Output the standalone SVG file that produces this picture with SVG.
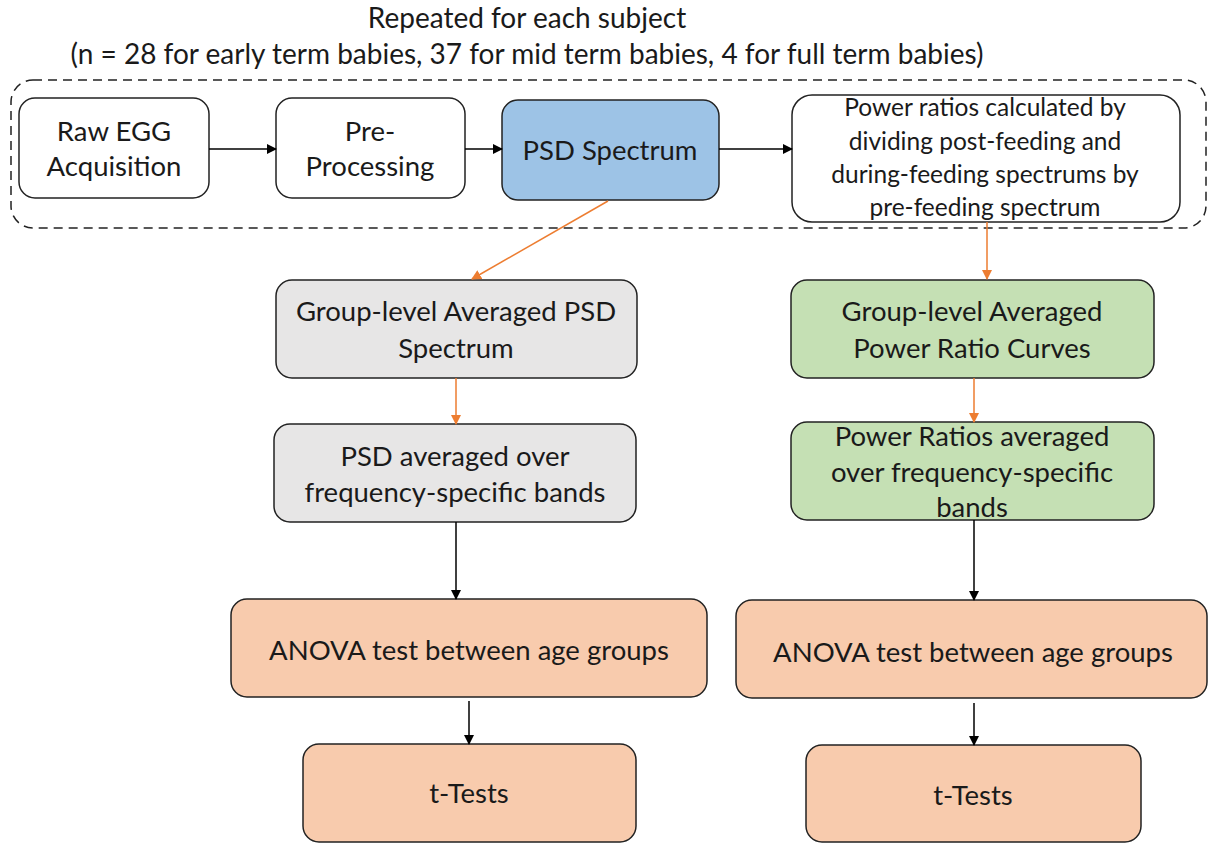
<svg xmlns="http://www.w3.org/2000/svg" width="1208" height="843" viewBox="0 0 1208 843">
<defs>
<marker id="ao" viewBox="0 0 10 10" refX="9" refY="5" markerWidth="10" markerHeight="10" orient="auto" markerUnits="userSpaceOnUse"><path d="M0,0 L10,5 L0,10 z" fill="#ED7D31"/></marker>
<marker id="ak" viewBox="0 0 10 10" refX="9" refY="5" markerWidth="10" markerHeight="10" orient="auto" markerUnits="userSpaceOnUse"><path d="M0,0 L10,5 L0,10 z" fill="#000"/></marker>
</defs>
<style>
text{font-family:Lato,"Open Sans","Liberation Sans",sans-serif;fill:#1a1a1a;text-anchor:middle}
.t{font-size:27.5px}
.h{font-size:28px}
.s{font-size:24.5px}
.n rect{stroke:#222;stroke-width:1.5}
.w{fill:#fff}
.b{fill:#9DC3E6}
.g{fill:#E7E6E6}
.gr{fill:#C5E0B4}
.o{fill:#F8CBAD}
.k{stroke:#000;stroke-width:1.5;fill:none}
.or{stroke:#ED7D31;stroke-width:1.5;fill:none}
</style>
<g id="title">
<text class="h" x="527" y="28">Repeated for each subject</text>
<text class="h" x="527" y="64">(n = 28 for early term babies, 37 for mid term babies, 4 for full term babies)</text>
</g>
<g id="container"><rect x="11" y="80" width="1195" height="148" rx="22" fill="none" stroke="#222" stroke-width="1.5" stroke-dasharray="9,6"/></g>
<g id="raw" class="n"><rect class="w" x="19" y="98" width="190" height="100" rx="16"/><text class="t" x="114" y="141">Raw EGG</text><text class="t" x="114" y="176">Acquisition</text></g>
<g id="pre" class="n"><rect class="w" x="276" y="98" width="189" height="100" rx="16"/><text class="t" x="370" y="141">Pre-</text><text class="t" x="370" y="176">Processing</text></g>
<g id="psd" class="n"><rect class="b" x="502" y="100" width="217" height="100" rx="16"/><text class="t" x="610" y="160">PSD Spectrum</text></g>
<g id="ratios" class="n"><rect class="w" x="792" y="95" width="388" height="127" rx="20"/><text class="s" x="985" y="116">Power ratios calculated by</text><text class="s" x="985" y="150">dividing post-feeding and</text><text class="s" x="985" y="183">during-feeding spectrums by</text><text class="s" x="985" y="216">pre-feeding spectrum</text></g>
<g id="grp_psd" class="n"><rect class="g" x="276" y="280" width="361" height="98" rx="16"/><text class="t" x="456" y="321">Group-level Averaged PSD</text><text class="t" x="456" y="358">Spectrum</text></g>
<g id="grp_ratio" class="n"><rect class="gr" x="791" y="280" width="363" height="98" rx="16"/><text class="t" x="972" y="321">Group-level Averaged</text><text class="t" x="972" y="358">Power Ratio Curves</text></g>
<g id="psd_bands" class="n"><rect class="g" x="274" y="424" width="362" height="98" rx="16"/><text class="t" x="455" y="466">PSD averaged over</text><text class="t" x="455" y="502">frequency-specific bands</text></g>
<g id="ratio_bands" class="n"><rect class="gr" x="791" y="422" width="363" height="98" rx="16"/><text class="t" x="972" y="446">Power Ratios averaged</text><text class="t" x="972" y="482">over frequency-specific</text><text class="t" x="972" y="517">bands</text></g>
<g id="anova_l" class="n"><rect class="o" x="231" y="599" width="476" height="98" rx="16"/><text class="t" x="469" y="660">ANOVA test between age groups</text></g>
<g id="anova_r" class="n"><rect class="o" x="736" y="600" width="471" height="98" rx="16"/><text class="t" x="973" y="662">ANOVA test between age groups</text></g>
<g id="t_l" class="n"><rect class="o" x="303" y="744" width="333" height="98" rx="16"/><text class="t" x="469" y="803">t-Tests</text></g>
<g id="t_r" class="n"><rect class="o" x="806" y="745" width="335" height="97" rx="16"/><text class="t" x="973" y="805">t-Tests</text></g>
<g id="connectors">
<line class="k" x1="209" y1="149" x2="276" y2="149" marker-end="url(#ak)"/>
<line class="k" x1="465" y1="149" x2="502" y2="149" marker-end="url(#ak)"/>
<line class="k" x1="719" y1="149" x2="792" y2="149" marker-end="url(#ak)"/>
<line class="or" x1="608" y1="201" x2="472" y2="279" marker-end="url(#ao)"/>
<line class="or" x1="987" y1="222" x2="987" y2="279" marker-end="url(#ao)"/>
<line class="or" x1="456" y1="378" x2="456" y2="424" marker-end="url(#ao)"/>
<line class="or" x1="974" y1="378" x2="974" y2="422" marker-end="url(#ao)"/>
<line class="k" x1="456" y1="522" x2="456" y2="599" marker-end="url(#ak)"/>
<line class="k" x1="469" y1="701" x2="469" y2="744" marker-end="url(#ak)"/>
<line class="k" x1="974" y1="520" x2="974" y2="600" marker-end="url(#ak)"/>
<line class="k" x1="974" y1="703" x2="974" y2="745" marker-end="url(#ak)"/>
</g>
</svg>
